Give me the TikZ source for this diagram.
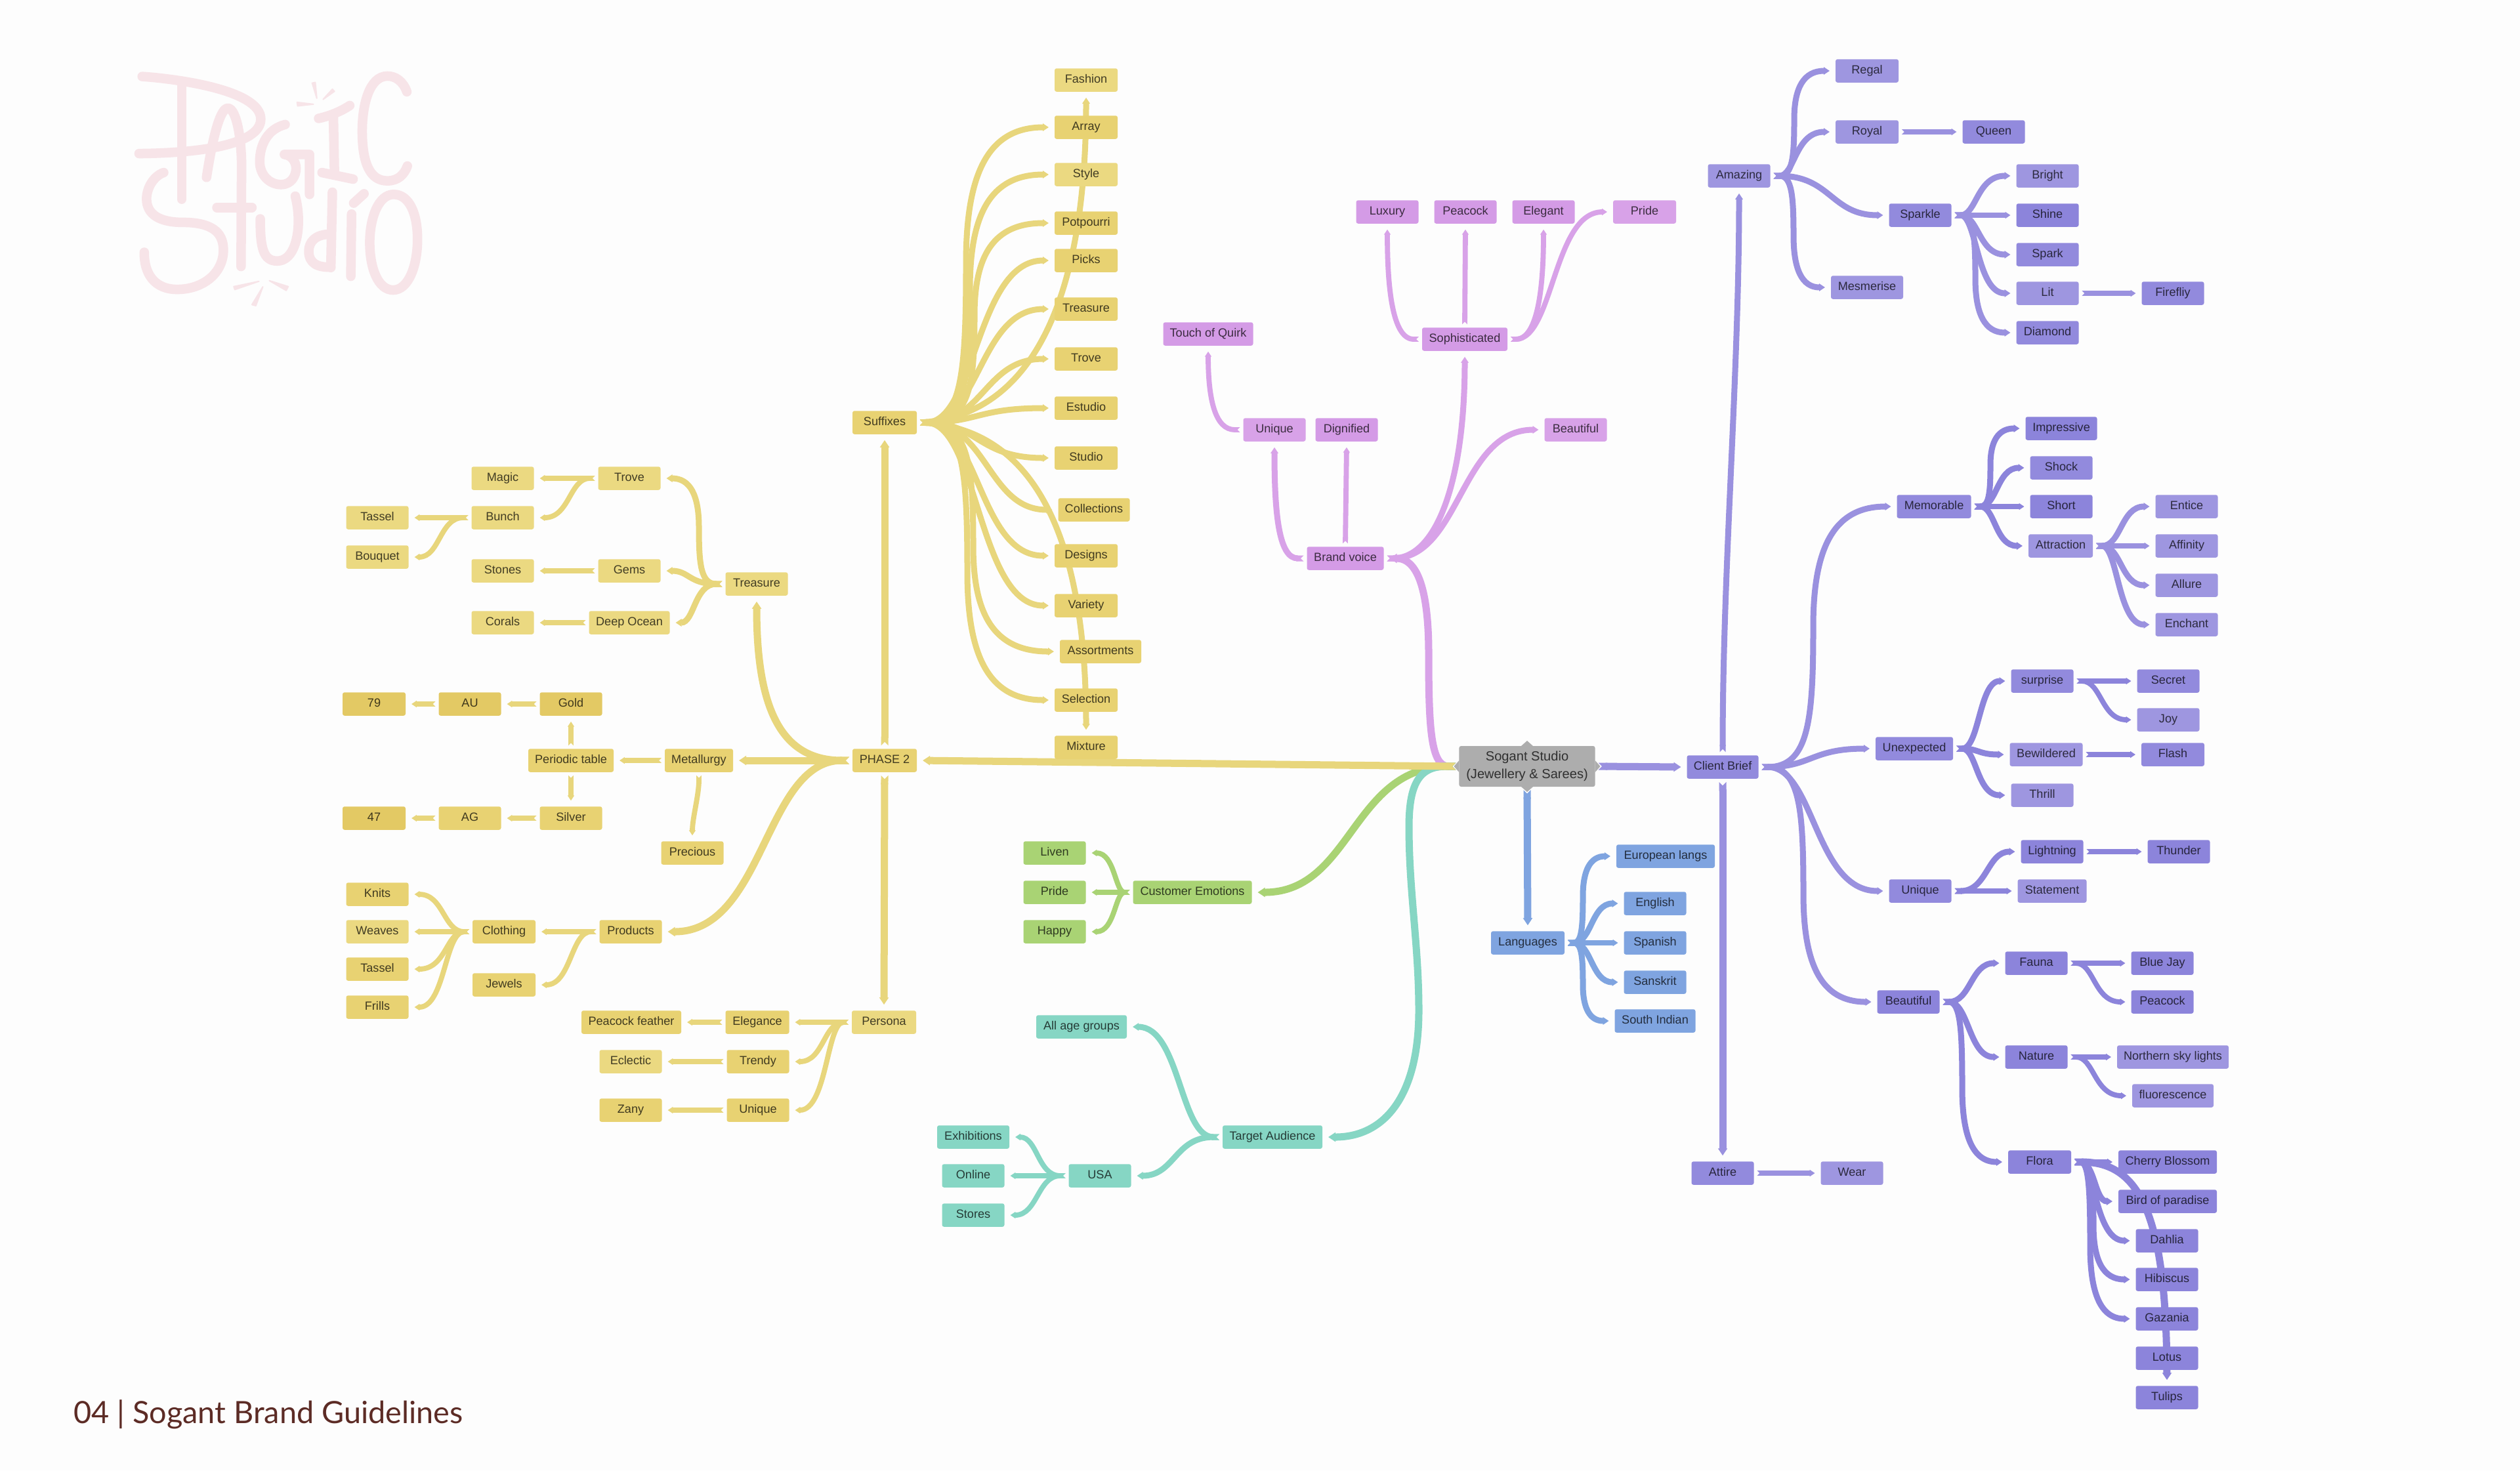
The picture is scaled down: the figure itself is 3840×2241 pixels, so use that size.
\documentclass[tikz,border=0pt]{standalone}
\usepackage{fontspec}
\setmainfont{Liberation Sans}
\newfontfamily\footfont{Lato}
\usetikzlibrary{arrows.meta,calc}
\pgfdeclarelayer{bg}
\pgfsetlayers{bg,main}
\definecolor{paper}{HTML}{FDFDFD}
\definecolor{yl}{HTML}{EBD981}
\definecolor{ym}{HTML}{E8D272}
\definecolor{yd}{HTML}{E3C964}
\definecolor{yline}{HTML}{E8D67C}
\definecolor{pk}{HTML}{D49BE6}
\definecolor{pkline}{HTML}{D8A2E8}
\definecolor{bl}{HTML}{7FA4E0}
\definecolor{gr}{HTML}{A9D374}
\definecolor{te}{HTML}{86D6C4}
\definecolor{pa}{HTML}{9E96E0}
\definecolor{pb}{HTML}{928ADD}
\definecolor{pc}{HTML}{8C84DB}
\definecolor{pline}{HTML}{9A91DF}
\definecolor{pdark}{HTML}{8C84DB}
\definecolor{grey}{HTML}{ADADAD}
\definecolor{logo}{HTML}{F7E4E8}
\definecolor{foot}{HTML}{5C2B25}
\colorlet{linec}{yline}
\tikzset{
  nb0/.style={rectangle,rounded corners=0.03cm,inner sep=0pt,outer sep=0.05cm,minimum height=0.355cm,text=black,text opacity=0.72},
  nb/.style={nb0,text height=3.9pt,text depth=1.1pt,font=\fontsize{5.15}{6}\selectfont},
  cn/.style={draw=linec,line width=0.09cm,shorten >=0.04cm,
    {Triangle Cap[reversed]}-{Triangle[length=0pt 1.0,width=0pt 1.25]}},
  thick1/.style={line width=0.11cm},
  thin1/.style={line width=0.078cm},
  logostroke/.style={draw=logo,line width=0.145cm,line cap=round,line join=round},
  spark/.style={fill=logo,draw=logo,line width=0.02cm,line join=round}
}
% node: name, cx, cy, width, text, fill
\newcommand\ndd[6]{\node[nb,fill=#6,minimum width=#4*0.01cm] (#1) at (#2,#3+2) {#5};}
% straight connector
\newcommand\stc[3][]{\draw[cn,thin1,#1] (#2) -- (#3);}
% smooth S curve, both controls at x = #4
\newcommand\hcs[4][]{\draw[cn,#1] (#2) .. controls (#4,0 |- #2) and (#4,0 |- #3) .. (#3);}
% tall curve with a vertical run through x = #4
\newcommand\hcv[4][]{%
  \coordinate (vq) at ($(#2)!.54!(#3)$);
  \coordinate (vm) at (#4,0 |- vq);
  \draw[cn,#1] (#2) .. controls ($(#2)!.92!(vm |- #2)$) and ($(vm |- #2)!.34!(vm)$) .. (vm)
     .. controls ($(vm)!.65!(vm |- #3)$) and ($(vm |- #3)!.25!(#3)$) .. (#3);}
\begin{document}
\begin{tikzpicture}[x=0.01cm,y=-0.01cm]
\useasboundingbox (0,0) rectangle (3840,2241);

% ---------- yellow nodes
\ndd{Fa}{1655}{120}{96}{Fashion}{yl}
\ndd{Ar}{1655}{192}{96}{Array}{ym}
\ndd{St}{1655}{264}{96}{Style}{yl}
\ndd{Po}{1655}{338}{96}{Potpourri}{ym}
\ndd{Pi}{1655}{395}{96}{Picks}{ym}
\ndd{Trs}{1655}{469}{96}{Treasure}{ym}
\ndd{Trv}{1655}{545}{96}{Trove}{ym}
\ndd{Es}{1655}{620}{96}{Estudio}{ym}
\ndd{Sd}{1655}{696}{96}{Studio}{ym}
\ndd{Co}{1667}{775}{109}{Collections}{ym}
\ndd{De}{1655}{845}{96}{Designs}{ym}
\ndd{Va}{1655}{921}{96}{Variety}{ym}
\ndd{As}{1677}{991}{124}{Assortments}{ym}
\ndd{Se}{1655}{1065}{96}{Selection}{ym}
\ndd{Mi}{1655}{1137}{96}{Mixture}{ym}
\ndd{Su}{1348}{642}{98}{Suffixes}{ym}
\ndd{Ph}{1348}{1157}{98}{PHASE 2}{ym}
\ndd{Pe}{1347}{1556}{98}{Persona}{yl}
\ndd{Tre}{1153}{888}{95}{Treasure}{yl}
\ndd{Tv}{959}{727}{95}{Trove}{yl}
\ndd{Mg}{766}{727}{95}{Magic}{yl}
\ndd{Bu}{766}{787}{95}{Bunch}{yl}
\ndd{Ta}{575}{787}{95}{Tassel}{yl}
\ndd{Bq}{575}{847}{95}{Bouquet}{yl}
\ndd{Sn}{766}{868}{95}{Stones}{yl}
\ndd{Ge}{959}{868}{95}{Gems}{yl}
\ndd{Cr}{766}{947}{95}{Corals}{yl}
\ndd{Do}{959}{947}{123}{Deep Ocean}{yl}
\ndd{N79}{570}{1071}{96}{79}{yd}
\ndd{Au}{716}{1071}{95}{AU}{yd}
\ndd{Go}{870}{1071}{95}{Gold}{yd}
\ndd{Pt}{870}{1157}{130}{Periodic table}{ym}
\ndd{Me}{1065}{1157}{104}{Metallurgy}{ym}
\ndd{N47}{570}{1245}{96}{47}{yd}
\ndd{Ag}{716}{1245}{95}{AG}{ym}
\ndd{Si}{870}{1245}{95}{Silver}{ym}
\ndd{Pr}{1055}{1298}{95}{Precious}{ym}
\ndd{Kn}{575}{1361}{95}{Knits}{ym}
\ndd{We}{575}{1418}{95}{Weaves}{yl}
\ndd{Ts}{575}{1475}{95}{Tassel}{ym}
\ndd{Fr}{575}{1533}{95}{Frills}{ym}
\ndd{Cl}{768}{1418}{96}{Clothing}{ym}
\ndd{Pd}{961}{1418}{95}{Products}{ym}
\ndd{Je}{768}{1499}{96}{Jewels}{ym}
\ndd{Pf}{962}{1556}{152}{Peacock feather}{ym}
\ndd{El}{1154}{1556}{97}{Elegance}{ym}
\ndd{Ec}{961}{1616}{95}{Eclectic}{yl}
\ndd{Tn}{1155}{1616}{95}{Trendy}{ym}
\ndd{Za}{961}{1690}{95}{Zany}{ym}
\ndd{Un}{1155}{1690}{95}{Unique}{ym}
% ---------- green
\ndd{Li}{1607}{1298}{95}{Liven}{gr}
\ndd{Gp}{1607}{1358}{95}{Pride}{gr}
\ndd{Ha}{1607}{1418}{95}{Happy}{gr}
\ndd{Ce}{1817}{1358}{181}{Customer Emotions}{gr}
% ---------- teal
\ndd{Aa}{1648}{1563}{138}{All age groups}{te}
\ndd{Ex}{1483}{1731}{110}{Exhibitions}{te}
\ndd{On}{1483}{1790}{95}{Online}{te}
\ndd{Sr}{1483}{1850}{95}{Stores}{te}
\ndd{Us}{1676}{1790}{95}{USA}{te}
\ndd{Tg}{1939}{1731}{152}{Target Audience}{te}
% ---------- pink
\ndd{Lx}{2114}{321}{95}{Luxury}{pk}
\ndd{Pc}{2233}{321}{95}{Peacock}{pk}
\ndd{Eg}{2352}{321}{95}{Elegant}{pk}
\ndd{Pp}{2506}{321}{96}{Pride}{pkline}
\ndd{So}{2232}{515}{130}{Sophisticated}{pk}
\ndd{Tq}{1841}{507}{137}{Touch of Quirk}{pk}
\ndd{Uq}{1942}{653}{95}{Unique}{pkline}
\ndd{Dg}{2052}{653}{95}{Dignified}{pk}
\ndd{Bf}{2401}{653}{95}{Beautiful}{pkline}
\ndd{Bv}{2050}{849}{117}{Brand voice}{pk}
% ---------- centre
\node[nb0,fill=grey,minimum width=2.07cm,minimum height=0.62cm,align=center,font=\fontsize{5.72}{7.6}\selectfont] (S) at (2327,1168) {Sogant Studio\\(Jewellery \& Sarees)};
\fill[grey] ([xshift=-0.09cm,yshift=-0.05cm]S.north) -- ([yshift=0.03cm]S.north) -- ([xshift=0.09cm,yshift=-0.05cm]S.north) -- cycle;
\fill[grey] ([xshift=-0.09cm,yshift=0.05cm]S.south) -- ([yshift=-0.03cm]S.south) -- ([xshift=0.09cm,yshift=0.05cm]S.south) -- cycle;
\fill[grey] ([xshift=-0.05cm,yshift=-0.09cm]S.east) -- ([xshift=0.03cm]S.east) -- ([xshift=-0.05cm,yshift=0.09cm]S.east) -- cycle;
\fill[grey] ([xshift=0.05cm,yshift=-0.09cm]S.west) -- ([xshift=-0.03cm]S.west) -- ([xshift=0.05cm,yshift=0.09cm]S.west) -- cycle;
% ---------- blue
\ndd{La}{2328}{1435}{112}{Languages}{bl}
\ndd{Eu}{2538}{1303}{150}{European langs}{bl}
\ndd{En}{2522}{1375}{95}{English}{bl}
\ndd{Sp}{2522}{1435}{95}{Spanish}{bl}
\ndd{Sk}{2522}{1495}{95}{Sanskrit}{bl}
\ndd{Si2}{2522}{1554}{123}{South Indian}{bl}
% ---------- purple
\ndd{Cb}{2625}{1167}{109}{Client Brief}{pb}
\ndd{Am}{2650}{266}{95}{Amazing}{pa}
\ndd{Rg}{2845}{106}{96}{Regal}{pa}
\ndd{Ry}{2845}{199}{96}{Royal}{pa}
\ndd{Qu}{3038}{199}{95}{Queen}{pb}
\ndd{Sa}{2926}{326}{95}{Sparkle}{pb}
\ndd{Mz}{2845}{436}{110}{Mesmerise}{pa}
\ndd{Br}{3120}{266}{95}{Bright}{pa}
\ndd{Sh}{3120}{326}{95}{Shine}{pc}
\ndd{Sk2}{3120}{386}{95}{Spark}{pb}
\ndd{Lt}{3120}{445}{95}{Lit}{pa}
\ndd{Dm}{3120}{505}{95}{Diamond}{pb}
\ndd{Ff}{3311}{445}{95}{Firefliy}{pb}
\ndd{Mm}{2947}{770}{113}{Memorable}{pb}
\ndd{Im}{3141}{651}{109}{Impressive}{pc}
\ndd{Sc}{3141}{711}{95}{Shock}{pb}
\ndd{So2}{3141}{770}{95}{Short}{pc}
\ndd{At}{3140}{830}{98}{Attraction}{pa}
\ndd{Ei}{3332}{770}{95}{Entice}{pa}
\ndd{Af}{3332}{830}{95}{Affinity}{pa}
\ndd{Al}{3332}{890}{95}{Allure}{pa}
\ndd{Ec2}{3332}{950}{95}{Enchant}{pa}
\ndd{Ue}{2917}{1139}{118}{Unexpected}{pb}
\ndd{Sz}{3112}{1036}{95}{surprise}{pb}
\ndd{Sx}{3304}{1036}{95}{Secret}{pb}
\ndd{Jo}{3304}{1095}{95}{Joy}{pa}
\ndd{Bw}{3118}{1148}{111}{Bewildered}{pa}
\ndd{Fl}{3311}{1148}{96}{Flash}{pb}
\ndd{Th}{3112}{1210}{95}{Thrill}{pa}
\ndd{Uq2}{2926}{1356}{95}{Unique}{pb}
\ndd{Lg}{3127}{1296}{95}{Lightning}{pc}
\ndd{Tu}{3320}{1296}{95}{Thunder}{pc}
\ndd{Sm}{3127}{1356}{105}{Statement}{pa}
\ndd{Be}{2908}{1525}{95}{Beautiful}{pc}
\ndd{Fn}{3103}{1466}{95}{Fauna}{pc}
\ndd{Bj}{3295}{1466}{95}{Blue Jay}{pc}
\ndd{Pk}{3295}{1525}{95}{Peacock}{pc}
\ndd{Nt}{3103}{1609}{95}{Nature}{pc}
\ndd{Ns}{3311}{1609}{170}{Northern sky lights}{pa}
\ndd{Fs}{3311}{1668}{124}{fluorescence}{pa}
\ndd{Fo}{3108}{1769}{96}{Flora}{pc}
\ndd{Cy}{3303}{1769}{150}{Cherry Blossom}{pc}
\ndd{Bp}{3303}{1829}{150}{Bird of paradise}{pc}
\ndd{Da}{3302}{1889}{95}{Dahlia}{pc}
\ndd{Hb}{3302}{1948}{95}{Hibiscus}{pc}
\ndd{Gz}{3302}{2008}{95}{Gazania}{pc}
\ndd{Lo}{3302}{2068}{95}{Lotus}{pc}
\ndd{Tl}{3302}{2128}{95}{Tulips}{pc}
\ndd{Ai}{2625}{1786}{95}{Attire}{pb}
\ndd{Wr}{2822}{1786}{95}{Wear}{pa}

% ---------- footer
\node[anchor=base west,inner sep=0pt,text=foot,font=\fontsize{13.3}{15}\footfont] (footer) at (112,2169) {04 | Sogant Brand Guidelines};

\begin{pgfonlayer}{bg}
\fill[paper] (0,0) rectangle (3840,2241);
% ---------- logo
\begin{scope}[shift={(100,60)},x=0.00395cm,y=-0.00333cm]
\draw[logostroke] (295,170) .. controls (420,180) and (752,230) .. (752,365) .. controls (752,470) and (560,520) .. (283,523);
\draw[logostroke] (447,205) -- (447,732);
\draw[logostroke] (543,632) .. controls (560,500) and (590,315) .. (625,315) .. controls (660,315) and (680,470) .. (678,600) -- (676,1040);
\draw[logostroke] (583,770) -- (718,770);
\draw[logostroke] (846,390) .. controls (780,410) and (748,480) .. (748,560) .. controls (748,620) and (785,665) .. (830,665) .. controls (870,665) and (888,625) .. (888,590) .. controls (888,560) and (870,530) .. (843,527) -- (940,527) -- (940,710);
\draw[logostroke] (975,362) .. controls (1020,350) and (1060,330) .. (1095,303);
\draw[logostroke] (1032,360) -- (1036,610);
\draw[logostroke] (988,610) -- (1108,640);
\draw[logostroke] (1315,240) .. controls (1300,190) and (1270,168) .. (1240,168) .. controls (1170,168) and (1143,300) .. (1143,420) .. controls (1143,560) and (1170,648) .. (1240,648) .. controls (1280,648) and (1305,620) .. (1317,580);
\draw[logostroke] (378,610) .. controls (340,625) and (312,680) .. (312,730) .. controls (312,800) and (360,838) .. (450,838) .. controls (560,838) and (608,880) .. (608,965) .. controls (608,1070) and (530,1145) .. (430,1145) .. controls (340,1145) and (302,1070) .. (303,975);
\draw[logostroke] (750,822) .. controls (750,950) and (760,1015) .. (815,1015) .. controls (870,1015) and (897,930) .. (897,830) .. controls (897,790) and (892,750) .. (885,718);
\draw[logostroke] (1028,700) -- (1022,1045);
\draw[logostroke] (1022,892) .. controls (960,892) and (937,930) .. (937,970) .. controls (937,1025) and (970,1045) .. (1022,1043);
\draw[logostroke] (1110,750) -- (1150,707);
\draw[logostroke] (1102,800) -- (1099,1085);
\draw[logostroke] (1264,710) .. controls (1205,710) and (1172,820) .. (1172,930) .. controls (1172,1050) and (1205,1148) .. (1262,1148) .. controls (1320,1148) and (1356,1040) .. (1356,915) .. controls (1356,800) and (1325,710) .. (1264,710) -- cycle;
\fill[spark] (950,200) -- (962,197) -- (968,270) -- cycle;
\fill[spark] (1028,228) -- (1036,238) -- (992,275) -- cycle;
\fill[spark] (892,288) -- (955,297) -- (894,305) -- cycle;
\fill[spark] (648,1132) -- (745,1108) -- (652,1146) -- cycle;
\fill[spark] (858,1132) -- (785,1105) -- (850,1150) -- cycle;
\fill[spark] (718,1215) -- (760,1133) -- (733,1220) -- cycle;
\end{scope}

% ---------- centre spokes and yellow tree
\begin{scope}
\colorlet{linec}{pkline}
\hcv[thick1]{S.west}{Bv.east}{2177}
\colorlet{linec}{gr}
\hcs[thick1]{S.west}{Ce.east}{2060}
\colorlet{linec}{te}
\draw[cn,thick1] (S.west) .. controls (2165,1167) and (2147,1190) .. (2147,1260) .. controls (2147,1360) and (2162,1440) .. (2162,1540) .. controls (2162,1670) and (2110,1733) .. (Tg.east);
\colorlet{linec}{yline}
\draw[cn,thick1] (S.west) -- (Ph.east);
\stc[thick1]{Ph.north}{Su.south}
\stc[thick1]{Ph.south}{Pe.north}
\stc[thick1]{Ph.west}{Me.east}
\draw[cn,thick1] (Ph.west) .. controls (1190,1159) and (1153,1080) .. (Tre.south);
\hcs[thick1]{Ph.west}{Pd.east}{1165}
\stc{Me.west}{Pt.east}
\stc{Pt.north}{Go.south}
\stc{Pt.south}{Si.north}
\stc{Go.west}{Au.east}
\stc{Au.west}{N79.east}
\stc{Si.west}{Ag.east}
\stc{Ag.west}{N47.east}
\draw[cn,thin1] (Me.south) .. controls +(0,30) and +(0,-30) .. (Pr.north);
\hcv{Tre.west}{Tv.east}{1065}
\hcs{Tre.west}{Ge.east}{1050}
\hcs{Tre.west}{Do.east}{1058}
\stc{Tv.west}{Mg.east}
\hcs[thin1]{Tv.west}{Bu.east}{868}
\stc{Bu.west}{Ta.east}
\hcs[thin1]{Bu.west}{Bq.east}{670}
\stc{Ge.west}{Sn.east}
\stc{Do.west}{Cr.east}
\stc{Pd.west}{Cl.east}
\hcs[thin1]{Pd.west}{Je.east}{870}
\hcs[thin1]{Cl.west}{Kn.east}{676}
\stc{Cl.west}{We.east}
\hcs[thin1]{Cl.west}{Ts.east}{680}
\hcs[thin1]{Cl.west}{Fr.east}{678}
\stc{Pe.west}{El.east}
\hcs[thin1]{Pe.west}{Tn.east}{1255}
\hcs[thin1]{Pe.west}{Un.east}{1260}
\stc{El.west}{Pf.east}
\stc{Tn.west}{Ec.east}
\stc{Un.west}{Za.east}
% suffix fan
\hcv{Su.east}{Ar.west}{1472}
\hcv{Su.east}{St.west}{1478}
\hcv{Su.east}{Po.west}{1485}
\hcs{Su.east}{Pi.west}{1487}
\hcs{Su.east}{Trs.west}{1493}
\hcs{Su.east}{Trv.west}{1500}
\hcs{Su.east}{Es.west}{1490}
\hcs{Su.east}{Sd.west}{1490}
\hcs{Su.east}{Co.west}{1505}
\hcs{Su.east}{De.west}{1492}
\hcs{Su.east}{Va.west}{1490}
\hcv{Su.east}{As.west}{1483}
\hcv{Su.east}{Se.west}{1474}
\draw[cn] (Su.east) .. controls (1560,630) and (1655,480) .. (Fa.south);
\draw[cn] (Su.east) .. controls (1560,655) and (1655,790) .. (Mi.north);
% green
\colorlet{linec}{gr}
\hcs[thin1]{Ce.west}{Li.east}{1699}
\stc{Ce.west}{Gp.east}
\hcs[thin1]{Ce.west}{Ha.east}{1699}
% teal
\colorlet{linec}{te}
\hcs{Tg.west}{Aa.east}{1798}
\hcs{Tg.west}{Us.east}{1790}
\hcs[thin1]{Us.west}{Ex.east}{1581}
\stc{Us.west}{On.east}
\hcs[thin1]{Us.west}{Sr.east}{1581}
% blue
\colorlet{linec}{bl}
\stc[thick1]{S.south}{La.north}
\hcv{La.east}{Eu.west}{2412}
\hcs{La.east}{En.west}{2425}
\stc{La.east}{Sp.west}
\hcs{La.east}{Sk.west}{2425}
\hcv{La.east}{Si2.west}{2412}
% pink
\colorlet{linec}{pkline}
\hcs{Bv.east}{Bf.west}{2225}
\draw[cn] (Bv.east) .. controls (2190,851) and (2232,730) .. (So.south);
\draw[cn] (Bv.west) .. controls (1950,851) and (1942,790) .. (Uq.south);
\stc{Bv.north}{Dg.south}
\draw[cn,thin1] (Uq.west) .. controls (1852,655) and (1841,610) .. (Tq.south);
\draw[cn,thin1] (So.west) .. controls (2120,517) and (2114,430) .. (Lx.south);
\stc{So.north}{Pc.south}
\draw[cn,thin1] (So.east) .. controls (2345,517) and (2352,430) .. (Eg.south);
\hcs[thin1]{So.east}{Pp.west}{2367}
% purple
\colorlet{linec}{pline}
\draw[cn,thick1] (S.east) -- (Cb.west);
\hcv{Cb.east}{Mm.west}{2763}
\hcs{Cb.east}{Ue.west}{2760}
\hcs{Cb.east}{Uq2.west}{2765}
\hcv{Cb.east}{Be.west}{2748}
\draw[cn] (Cb.north) .. controls +(0,-280) and +(0,280) .. (Am.south);
\stc[thick1]{Cb.south}{Ai.north}
\stc{Ai.east}{Wr.west}
\hcv{Am.east}{Rg.west}{2734}
\hcs{Am.east}{Ry.west}{2735}
\hcs{Am.east}{Sa.west}{2790}
\hcv{Am.east}{Mz.west}{2733}
\stc{Ry.east}{Qu.west}
\hcs{Sa.east}{Br.west}{3012}
\stc{Sa.east}{Sh.west}
\hcs{Sa.east}{Sk2.west}{3015}
\hcs{Sa.east}{Lt.west}{3012}
\hcv{Sa.east}{Dm.west}{3010}
\stc{Lt.east}{Ff.west}
\colorlet{linec}{pdark}
\hcv{Mm.east}{Im.west}{3033}
\hcs{Mm.east}{Sc.west}{3043}
\stc{Mm.east}{So2.west}
\hcs{Mm.east}{At.west}{3040}
\colorlet{linec}{pline}
\hcs{At.east}{Ei.west}{3232}
\stc{At.east}{Af.west}
\hcs{At.east}{Al.west}{3232}
\hcs{At.east}{Ec2.west}{3227}
\colorlet{linec}{pdark}
\hcs{Ue.east}{Sz.west}{3016}
\hcs{Ue.east}{Bw.west}{3015}
\hcs{Ue.east}{Th.west}{3012}
\stc{Sz.east}{Sx.west}
\hcs[thin1]{Sz.east}{Jo.west}{3202}
\stc{Bw.east}{Fl.west}
\hcs{Uq2.east}{Lg.west}{3028}
\stc{Uq2.east}{Sm.west}
\stc{Lg.east}{Tu.west}
\hcs{Be.east}{Fn.west}{3003}
\hcs{Be.east}{Nt.west}{3000}
\hcv{Be.east}{Fo.west}{2990}
\stc{Fn.east}{Bj.west}
\hcs[thin1]{Fn.east}{Pk.west}{3191}
\stc{Nt.east}{Ns.west}
\hcs[thin1]{Nt.east}{Fs.west}{3191}
\stc{Fo.east}{Cy.west}
\hcs{Fo.east}{Bp.west}{3192}
\hcs{Fo.east}{Da.west}{3192}
\hcv{Fo.east}{Hb.west}{3190}
\hcv{Fo.east}{Gz.west}{3185}
\draw[cn,thick1] (Fo.east) .. controls (3260,1771) and (3301,1850) .. (Tl.north);
\end{scope}
\end{pgfonlayer}
\end{tikzpicture}
\end{document}
